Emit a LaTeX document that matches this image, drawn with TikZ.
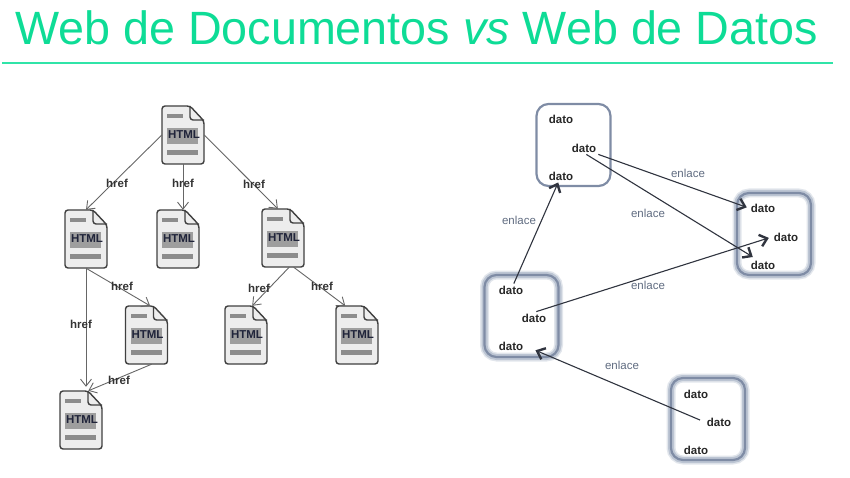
\documentclass[tikz,border=0pt]{standalone}
\usepackage{fontspec}
\setmainfont{Liberation Sans}
\usetikzlibrary{arrows.meta}
\definecolor{titlegreen}{HTML}{0EDC96}
\definecolor{rulegreen}{HTML}{30E4A8}
\definecolor{boxline}{HTML}{7F8CA5}
\definecolor{boxglow}{HTML}{BCC5D3}
\definecolor{boxhalo}{HTML}{E2E6EC}
\definecolor{arrowdark}{HTML}{30343F}
\definecolor{enlacetext}{HTML}{5F6B80}
\definecolor{htmltext}{HTML}{20243A}
\tikzset{
  docbox/.style={minimum width=42pt, minimum height=58pt, inner sep=0pt},
  hreflabel/.style={font=\bfseries\fontsize{11.5}{13}\selectfont, text=black!80},
  hrefline/.style={draw=black!60, line width=.9pt, -{Straight Barb[length=7pt,width=11pt]}},
  dato/.style={font=\bfseries\fontsize{11.5}{13}\selectfont, text=black!85, inner sep=2pt},
  enlace/.style={font=\fontsize{11.5}{13}\selectfont, text=enlacetext},
  datoline/.style={draw=arrowdark, line width=1.1pt, -{Straight Barb[length=7pt,width=12pt,line width=2.4pt]}},
  datobox/.style={draw=boxline, line width=2.2pt, rounded corners=12pt, minimum width=74pt, minimum height=82pt, inner sep=0pt},
  glowbox/.style={datobox, preaction={draw=boxhalo, line width=9pt}, preaction={draw=boxglow, line width=6pt}},
}
% one document icon, named through the pic
\tikzset{pics/docicon/.style={code={
  \node[docbox] (-box) at (0,0) {};
  \fill[black!7] (-21,-29) -- (7,-29) -- (21,-14) -- (21,29) -- (-21,29) -- cycle;
  \fill[black!45] (-16,-21) rectangle (0,-17);
  \fill[black!38] (-16,-7) rectangle (15,9);
  \fill[black!45] (-16,15) rectangle (15,20);
  \draw[black!75, line width=1.4pt, rounded corners=3pt] (-21,-29) -- (7,-29) -- (21,-14) -- (21,29) -- (-21,29) -- cycle;
  \draw[black!75, line width=1.4pt, rounded corners=3pt] (7,-29) -- (7,-15) -- (21,-15);
  \node[font=\bfseries\fontsize{11.5}{13}\selectfont, text=htmltext] (-text) at (1,0) {HTML};
}}}
\begin{document}
\begin{tikzpicture}[x=1pt,y=-1pt]
\useasboundingbox (0,0) rectangle (850,478);
% title
\node[font=\fontsize{46.7}{54}\selectfont, text=titlegreen] (title) at (416.5,28) {Web de Documentos \textit{vs} Web de Datos};
\coordinate (ruleleft) at (2,63);
\coordinate (ruleright) at (833,63);
\draw[rulegreen, line width=1.5pt] (ruleleft) -- (ruleright);
% left: documents
\pic (root) at (183,135) {docicon};
\pic (doca) at (86,239) {docicon};
\pic (docb) at (178,239) {docicon};
\pic (docc) at (283,238) {docicon};
\pic (docd) at (146.5,335) {docicon};
\pic (doce) at (246,335) {docicon};
\pic (docf) at (357,335) {docicon};
\pic (docg) at (81,420) {docicon};
\draw[hrefline] (root-box.west) -- (doca-box.north);
\draw[hrefline] (root-box.south) -- (docb-box.north -| root-box.south);
\draw[hrefline] (root-box.east) -- (docc-box.100);
\draw[hrefline, shorten >=4pt] (doca-box.south) -- (docg-box.north -| doca-box.south);
\draw[hrefline] (doca-box.south) -- (docd-box.83);
\draw[hrefline] (docd-box.-80) -- (docg-box.76);
\draw[hrefline] (docc-box.-78) -- (doce-box.78);
\draw[hrefline] (docc-box.-70) -- (docf-box.112);
\node[hreflabel] (ha) at (117,183) {href};
\node[hreflabel] (hb) at (183,183) {href};
\node[hreflabel] (hc) at (254,184) {href};
\node[hreflabel] (hd) at (81,324) {href};
\node[hreflabel] (he) at (122,286) {href};
\node[hreflabel] (hf) at (119,380) {href};
\node[hreflabel] (hg) at (259,288) {href};
\node[hreflabel] (hh) at (322,286) {href};
% right: data
\node[datobox] (boxa) at (573.5,145) {};
\node[glowbox] (boxb) at (774,234) {};
\node[glowbox] (boxc) at (521.5,316) {};
\node[glowbox] (boxd) at (708,419) {};
\node[dato] (a1) at (561,119) {dato};
\node[dato] (a2) at (584,148) {dato};
\node[dato] (a3) at (561,176) {dato};
\node[dato] (b1) at (763,208) {dato};
\node[dato] (b2) at (786,237) {dato};
\node[dato] (b3) at (763,265) {dato};
\node[dato] (c1) at (511,290) {dato};
\node[dato] (c2) at (534,318) {dato};
\node[dato] (c3) at (511,346) {dato};
\node[dato] (d1) at (696,394) {dato};
\node[dato] (d2) at (719,422) {dato};
\node[dato] (d3) at (696,450) {dato};
\draw[datoline] (c1) -- (a3);
\draw[datoline, shorten >=2pt] (a2.south east) -- (b1.west);
\draw[datoline, shorten >=3pt] (a2.-70) -- (b3.140);
\draw[datoline, shorten >=3pt] (c2.70) -- (b2.west);
\draw[datoline, shorten >=11pt, shorten <=5pt] (d2.west) -- (c3.east);
\node[enlace] (ea) at (688,173) {enlace};
\node[enlace] (eb) at (648,213) {enlace};
\node[enlace] (ec) at (519,220) {enlace};
\node[enlace] (ed) at (648,285) {enlace};
\node[enlace] (ee) at (622,365) {enlace};
\end{tikzpicture}
\end{document}
